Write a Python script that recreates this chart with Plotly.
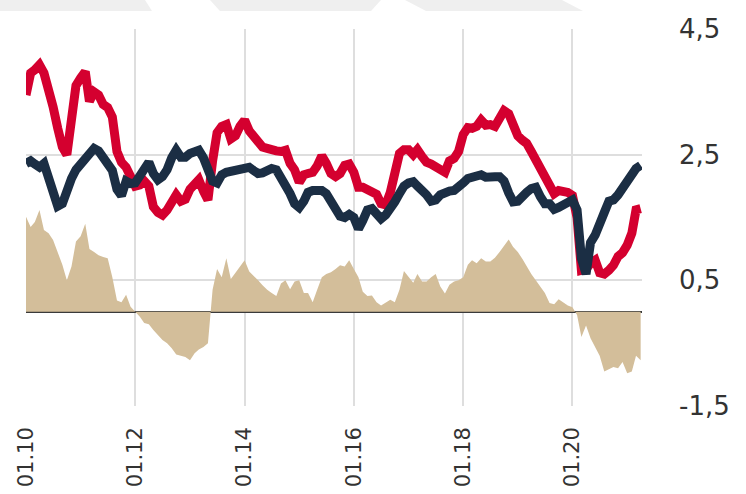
import pandas as pd
import plotly.graph_objects as go

# ---- data (monthly, Jan 2010 .. Apr 2021) ----
start_month = "2010-01-01"
red_series = [
    3.45, 3.80, 3.85, 3.93, 3.80, 3.55, 3.26, 2.92, 2.62, 2.50, 2.95, 3.60,
    3.72, 3.82, 3.35, 3.50, 3.45, 3.30, 3.25, 3.10, 2.55, 2.38, 2.30, 2.12,
    2.00, 2.02, 2.08, 2.00, 1.67, 1.58, 1.54, 1.62, 1.78, 1.86, 1.76, 1.79,
    1.95, 2.03, 2.10, 1.92, 1.78, 2.40, 2.85, 2.95, 2.98, 2.75, 2.80, 2.95,
    3.05, 2.88, 2.78, 2.68, 2.62, 2.60, 2.57, 2.56, 2.55, 2.57, 2.36, 2.26,
    2.06, 2.18, 2.20, 2.22, 2.32, 2.48, 2.36, 2.20, 2.15, 2.20, 2.33, 2.35,
    2.22, 1.98, 1.98, 1.95, 1.90, 1.87, 1.72, 1.70, 1.90, 2.30, 2.52, 2.58,
    2.58, 2.50, 2.58, 2.47, 2.38, 2.35, 2.32, 2.28, 2.22, 2.40, 2.44, 2.55,
    2.82, 2.93, 2.92, 2.95, 3.05, 2.97, 2.98, 2.95, 3.10, 3.20, 3.15, 2.95,
    2.80, 2.73, 2.68, 2.55, 2.42, 2.26, 2.12, 2.00, 1.88, 1.93, 1.93, 1.90,
    1.85, 1.50, 0.66, 0.68, 0.77, 0.82, 0.62, 0.60, 0.66, 0.74, 0.88, 0.94,
    1.06, 1.25, 1.62, 1.64,
]
navy_series = [
    2.36, 2.40, 2.35, 2.30, 2.36, 2.12, 1.88, 1.68, 1.72, 1.95, 2.12, 2.26,
    2.35, 2.42, 2.50, 2.60, 2.56, 2.44, 2.38, 2.25, 1.95, 1.85, 2.08, 2.04,
    2.05, 2.15, 2.30, 2.38, 2.20, 2.10, 2.15, 2.26, 2.45, 2.57, 2.46, 2.46,
    2.52, 2.55, 2.57, 2.45, 2.25, 2.08, 2.05, 2.18, 2.22, 2.24, 2.23, 2.27,
    2.30, 2.30, 2.25, 2.20, 2.21, 2.24, 2.28, 2.26, 2.15, 2.02, 1.88, 1.72,
    1.66, 1.76, 1.90, 1.93, 1.93, 1.93, 1.88, 1.75, 1.62, 1.52, 1.50, 1.55,
    1.50, 1.32, 1.45, 1.62, 1.64, 1.56, 1.48, 1.54, 1.62, 1.75, 1.88, 2.00,
    2.05, 2.07, 2.00, 1.94, 1.86, 1.76, 1.78, 1.86, 1.90, 1.92, 1.93, 1.97,
    2.05, 2.12, 2.15, 2.16, 2.18, 2.14, 2.13, 2.15, 2.15, 2.08, 1.89, 1.75,
    1.76, 1.85, 1.90, 1.96, 1.98, 1.83, 1.72, 1.72, 1.63, 1.66, 1.70, 1.75,
    1.78, 1.62, 0.85, 0.60, 1.10, 1.22, 1.45, 1.58, 1.76, 1.78, 1.86, 1.97,
    2.12, 2.22, 2.28, 2.33,
]
spread_series = [
    1.51, 1.35, 1.43, 1.62, 1.30, 1.25, 1.14, 0.95, 0.75, 0.50, 0.72, 1.12,
    1.20, 1.40, 1.00, 0.95, 0.90, 0.87, 0.85, 0.55, 0.18, 0.15, 0.27, 0.08,
    0.00, -0.08, -0.18, -0.20, -0.29, -0.38, -0.45, -0.50, -0.58, -0.68, -0.70, -0.72,
    -0.77, -0.66, -0.60, -0.56, -0.50, 0.35, 0.68, 0.55, 0.85, 0.52, 0.62, 0.72,
    0.82, 0.64, 0.58, 0.50, 0.42, 0.35, 0.30, 0.25, 0.45, 0.50, 0.36, 0.48,
    0.50, 0.30, 0.30, 0.15, 0.35, 0.55, 0.60, 0.63, 0.68, 0.74, 0.72, 0.82,
    0.68, 0.55, 0.32, 0.25, 0.26, 0.15, 0.10, 0.14, 0.19, 0.15, 0.35, 0.65,
    0.56, 0.46, 0.60, 0.48, 0.48, 0.55, 0.60, 0.40, 0.29, 0.43, 0.48, 0.50,
    0.55, 0.75, 0.82, 0.77, 0.85, 0.80, 0.80, 0.86, 0.95, 1.05, 1.15, 1.03,
    0.95, 0.84, 0.72, 0.60, 0.50, 0.40, 0.30, 0.14, 0.12, 0.20, 0.15, 0.10,
    0.07, -0.05, -0.40, -0.22, -0.42, -0.55, -0.70, -0.95, -0.92, -0.88, -0.90, -0.80,
    -0.98, -0.95, -0.70, -0.77,
]
x_tick_dates = ["2010-01-01", "2012-01-01", "2014-01-01", "2016-01-01", "2018-01-01", "2020-01-01"]
x_tick_labels = ["01.10", "01.12", "01.14", "01.16", "01.18", "01.20"]
y_tick_values = [4.5, 2.5, 0.5, -1.5]
y_tick_labels = ["4,5", "2,5", "0,5", "-1,5"]

dates = pd.date_range(start_month, periods=len(red_series), freq="MS")

RED = "#D4002F"
NAVY = "#1B2E44"
TAN = "#D3BE9A"
TEXT = "#333333"
FONT = "DejaVu Sans"

W, H = 746, 494
ML, MR, MT, MB = 26, 104, 29, 88
PW, PH = W - ML - MR, H - MT - MB


def px_to_paper(px, py):
    return (px - ML) / PW, (H - MB - py) / PH


def banner(points):
    pts = [px_to_paper(a, b) for a, b in points]
    d = "M " + " L ".join(f"{a:.4f},{b:.4f}" for a, b in pts) + " Z"
    return dict(type="path", xref="paper", yref="paper", path=d,
                fillcolor="#EFEFEF", line=dict(width=0), layer="below")


fig = go.Figure()
fig.add_trace(go.Scatter(
    x=dates, y=spread_series, mode="lines", fill="tozeroy",
    fillcolor=TAN, line=dict(width=0, color=TAN), hoverinfo="skip",
    showlegend=False,
))
fig.add_trace(go.Scatter(
    x=dates, y=red_series, mode="lines",
    line=dict(color=RED, width=9), showlegend=False,
))
fig.add_trace(go.Scatter(
    x=dates, y=navy_series, mode="lines",
    line=dict(color=NAVY, width=9), showlegend=False,
))

fig.update_layout(
    width=W, height=H,
    margin=dict(l=ML, r=MR, t=MT, b=MB, autoexpand=False),
    paper_bgcolor="white", plot_bgcolor="white",
    font=dict(family=FONT, size=20, color=TEXT),
    showlegend=False,
    shapes=[
        banner([(0, 0), (145, 0), (152, 11), (0, 11)]),
        banner([(210, 0), (381, 0), (371, 11), (220, 11)]),
        banner([(405, 0), (562, 0), (583, 11), (426, 11)]),
    ],
)
fig.update_xaxes(
    type="date",
    range=["2010-01-01", "2021-04-10"],
    tickvals=x_tick_dates, ticktext=x_tick_labels,
    tickangle=-90,
    automargin=False,
    showgrid=True, gridcolor="#DEDEDE", gridwidth=1.5,
    zeroline=False, showline=False, ticks="",
    tickfont=dict(family=FONT, size=21, color=TEXT),
    ticklabelstandoff=16,
)
fig.update_yaxes(
    side="right",
    range=[-1.5, 4.5],
    tickvals=y_tick_values, ticktext=y_tick_labels,
    automargin=False,
    showgrid=True, gridcolor="#DEDEDE", gridwidth=1.5,
    zeroline=True, zerolinecolor="#3A3A3A", zerolinewidth=2,
    showline=False, ticks="",
    tickfont=dict(family=FONT, size=26, color=TEXT),
    ticklabelstandoff=36,
)

fig.write_html(
    "out.html",
    config={"displayModeBar": False},
    post_script="document.body.style.margin='0px';",
)
